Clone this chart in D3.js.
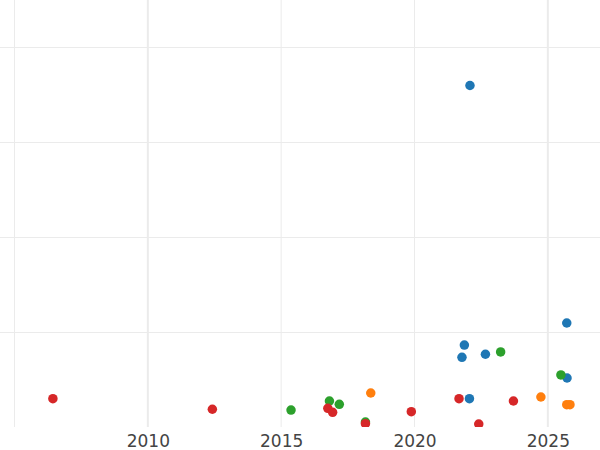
<!DOCTYPE html>
<html>
<head>
<meta charset="utf-8">
<script src="https://cdn.jsdelivr.net/npm/d3@7"></script>
<style>
  html, body { margin: 0; padding: 0; background: #fff; }
  svg { display: block; }
</style>
</head>
<body>
<svg id="chart" width="600" height="450"></svg>
<script>
// ---- data ----
const seriesNames = ["Series 1", "Series 2", "Series 3", "Series 4"];
const seriesColors = ["#1f77b4", "#ff7f0e", "#2ca02c", "#d62728"];

const series1Years  = [2022.08, 2021.87, 2021.78, 2022.66, 2022.06, 2025.71, 2025.72];
const series1Values = [36.0, 8.68, 7.39, 7.71, 3.03, 11.0, 5.21];

const series2Years  = [2018.36, 2024.74, 2025.71, 2025.83];
const series2Values = [3.63, 3.21, 2.40, 2.40];

const series3Years  = [2015.37, 2016.81, 2017.18, 2018.16, 2023.23, 2025.49];
const series3Values = [1.84, 2.79, 2.44, 0.58, 7.95, 5.53];

const series4Years  = [2006.44, 2012.42, 2016.75, 2016.93, 2018.16, 2019.88, 2021.67, 2022.41, 2023.71];
const series4Values = [3.03, 1.92, 2.02, 1.60, 0.40, 1.66, 3.03, 0.37, 2.79];

const xTickValues = [2005, 2010, 2015, 2020, 2025];
const xTickLabels = ["", "2010", "2015", "2020", "2025"];
const yTickValues = [10, 20, 30, 40];

// ---- layout ----
const W = 600, H = 450;
const plotBottom = 427;
const svg = d3.select("#chart");

const x = d3.scaleLinear().domain([2005, 2025]).range([14.5, 14.5 + 20 * (400 / 15)]);
const y = d3.scaleLinear().domain([0, 45]).range([427.5, 0]);

svg.append("defs").append("clipPath").attr("id", "plotclip")
  .append("rect").attr("x", 0).attr("y", 0).attr("width", W).attr("height", plotBottom);

// grid
const grid = svg.append("g");
grid.selectAll("line.v").data(xTickValues).join("line")
  .attr("class", "v")
  .attr("x1", d => x(d)).attr("x2", d => x(d))
  .attr("y1", 0).attr("y2", plotBottom)
  .attr("stroke", "#ebebeb")
  .attr("stroke-width", d => (d === 2010 || d === 2025) ? 2 : 1);
grid.selectAll("line.h").data(yTickValues).join("line")
  .attr("class", "h")
  .attr("x1", 0).attr("x2", W)
  .attr("y1", d => y(d)).attr("y2", d => y(d))
  .attr("stroke", "#ebebeb").attr("stroke-width", 1);

// x axis labels through d3 axis
const xAxis = d3.axisBottom(x)
  .tickValues(xTickValues)
  .tickSize(0)
  .tickPadding(0)
  .tickFormat((d, i) => xTickLabels[i]);
const gx = svg.append("g").attr("transform", `translate(0, ${plotBottom})`).call(xAxis);
gx.select(".domain").remove();
gx.selectAll("text")
  .attr("dy", null)
  .attr("y", 19.5)
  .attr("fill", "#444")
  .style("font-family", "'DejaVu Sans', Verdana, sans-serif")
  .style("font-size", "17px");

// points
const allSeries = [
  { years: series1Years, values: series1Values },
  { years: series2Years, values: series2Values },
  { years: series3Years, values: series3Values },
  { years: series4Years, values: series4Values }
];
const pts = svg.append("g").attr("clip-path", "url(#plotclip)");
allSeries.forEach((s, si) => {
  const data = s.years.map((yr, i) => ({ yr, v: s.values[i] }));
  pts.append("g").attr("class", "series").attr("data-name", seriesNames[si])
    .selectAll("circle").data(data).join("circle")
    .attr("cx", d => x(d.yr))
    .attr("cy", d => y(d.v))
    .attr("r", 4.75)
    .attr("fill", seriesColors[si]);
});
</script>
</body>
</html>
